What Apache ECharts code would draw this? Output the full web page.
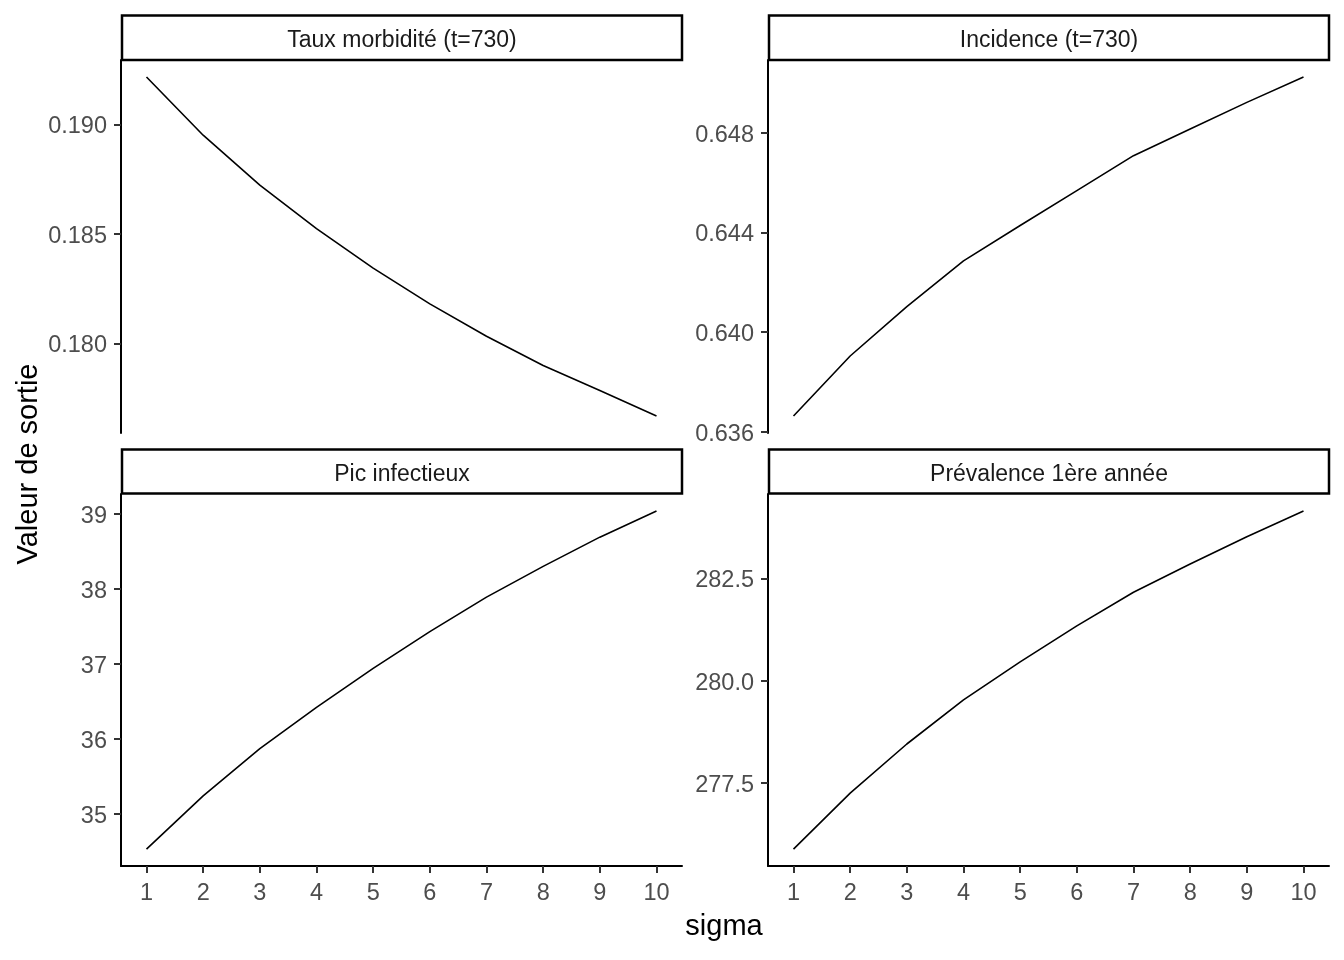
<!DOCTYPE html>
<html>
<head>
<meta charset="utf-8">
<title>Sensibilité à sigma</title>
<script src="https://cdn.jsdelivr.net/npm/echarts@6/dist/echarts.min.js"></script>
<style>
	html, body { margin: 0; padding: 0; background: #fff; }
	#chart { width: 1344px; height: 960px; }
</style>
</head>
<body>
<div id="chart"></div>
<script>
	"use strict";

	/* data */
	var sigma = [1, 2, 3, 4, 5, 6, 7, 8, 9, 10];
	var tauxMorbidite = [0.19216, 0.18950, 0.18722, 0.18524, 0.18343, 0.18180, 0.18032, 0.17899, 0.17785, 0.17668];
	var incidence = [0.63663, 0.63904, 0.64102, 0.64286, 0.64428, 0.64568, 0.64708, 0.64815, 0.64922, 0.65024];
	var picInfectieux = [34.53, 35.24, 35.87, 36.42, 36.94, 37.43, 37.89, 38.30, 38.69, 39.04];
	var prevalence = [275.88, 277.25, 278.45, 279.53, 280.46, 281.34, 282.16, 282.85, 283.52, 284.15];

	var panelTitles = ['Taux morbidité (t=730)', 'Incidence (t=730)', 'Pic infectieux', 'Prévalence 1ère année'];
	var xTicks = [1, 2, 3, 4, 5, 6, 7, 8, 9, 10];
	var yTicks = [
		[0.180, 0.185, 0.190],
		[0.636, 0.640, 0.644, 0.648],
		[35, 36, 37, 38, 39],
		[277.5, 280.0, 282.5]
	];
	var yDecimals = [3, 3, 0, 1];
	var panelValues = [tauxMorbidite, incidence, picInfectieux, prevalence];

	var font = "'Liberation Sans', Arial, sans-serif";

	/* panel boxes, like facet_wrap with free y */
	var panels = [
		{ left: 121, top: 60, width: 561, height: 373, bottomAxis: false },
		{ left: 768, top: 60, width: 561, height: 373, bottomAxis: false },
		{ left: 121, top: 494, width: 561, height: 372, bottomAxis: true },
		{ left: 768, top: 494, width: 561, height: 372, bottomAxis: true }
	];
	var strips = [
		{ x: 122, y: 15.5, w: 560, h: 44.5 },
		{ x: 769, y: 15.5, w: 560, h: 44.5 },
		{ x: 122, y: 449.5, w: 560, h: 44 },
		{ x: 769, y: 449.5, w: 560, h: 44 }
	];

	var grids = [], xAxes = [], yAxes = [], series = [], graphics = [];

	panels.forEach(function(p, i) {
		grids.push({ left: p.left, top: p.top, width: p.width, height: p.height, containLabel: false });

		xAxes.push({
			type: 'value',
			gridIndex: i,
			min: 0.55,
			max: 10.45,
			show: p.bottomAxis,
			splitLine: { show: false },
			axisLine: { show: true, onZero: false, lineStyle: { color: '#000', width: 2 } },
			axisTick: { show: true, length: 7, customValues: xTicks, lineStyle: { color: '#333', width: 2 } },
			axisLabel: {
				show: true,
				customValues: xTicks,
				margin: 16,
				color: '#4d4d4d',
				fontFamily: font,
				fontSize: 23.5
			}
		});

		var dec = yDecimals[i];
		yAxes.push({
			type: 'value',
			gridIndex: i,
			scale: true,
			min: function(v) { return v.min - 0.05 * (v.max - v.min); },
			max: function(v) { return v.max + 0.05 * (v.max - v.min); },
			splitLine: { show: false },
			axisLine: { show: true, onZero: false, lineStyle: { color: '#000', width: 2 } },
			axisTick: { show: true, length: 7, customValues: yTicks[i], lineStyle: { color: '#333', width: 2 } },
			axisLabel: {
				show: true,
				customValues: yTicks[i],
				margin: 14,
				color: '#4d4d4d',
				fontFamily: font,
				fontSize: 23.5,
				formatter: function(v) { return '{v|' + Number(v).toFixed(dec) + '}'; },
				rich: {
					v: {
						color: '#4d4d4d',
						fontFamily: font,
						fontSize: 23.5,
						padding: [5, 0, 0, 0]
					}
				}
			}
		});

		series.push({
			type: 'line',
			name: panelTitles[i],
			xAxisIndex: i,
			yAxisIndex: i,
			showSymbol: false,
			symbol: 'none',
			lineStyle: { color: '#000', width: 1.6 },
			data: sigma.map(function(s, k) { return [s, panelValues[i][k]]; })
		});

		/* strip header */
		var s = strips[i];
		graphics.push({
			type: 'rect',
			shape: { x: s.x, y: s.y, width: s.w, height: s.h },
			style: { fill: '#fff', stroke: '#000', lineWidth: 2.5 },
			z: 10
		});
		graphics.push({
			type: 'text',
			x: s.x + s.w / 2,
			y: s.y + s.h / 2 + 3,
			style: {
				text: panelTitles[i],
				fill: '#1a1a1a',
				font: '23px ' + font,
				textAlign: 'center',
				textVerticalAlign: 'middle'
			},
			z: 11
		});
	});

	/* shared axis titles */
	graphics.push({
		type: 'text',
		x: 724,
		y: 927,
		style: {
			text: 'sigma',
			fill: '#000',
			font: '29px ' + font,
			textAlign: 'center',
			textVerticalAlign: 'middle'
		}
	});
	graphics.push({
		type: 'text',
		x: 29,
		y: 464,
		rotation: Math.PI / 2,
		style: {
			text: 'Valeur de sortie',
			fill: '#000',
			font: '29px ' + font,
			textAlign: 'center',
			textVerticalAlign: 'middle'
		}
	});

	var chart = echarts.init(document.getElementById('chart'));
	chart.setOption({
		animation: false,
		backgroundColor: '#fff',
		grid: grids,
		xAxis: xAxes,
		yAxis: yAxes,
		series: series,
		graphic: graphics
	});
</script>
</body>
</html>
